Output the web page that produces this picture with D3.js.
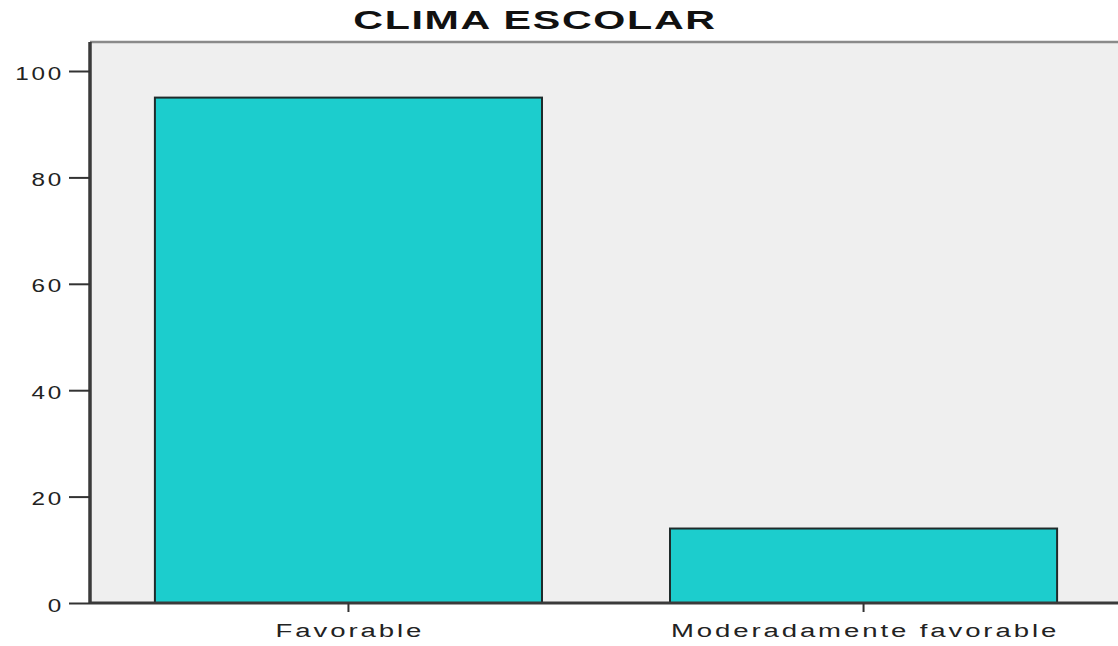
<!DOCTYPE html>
<html><head><meta charset="utf-8">
<script src="https://cdn.jsdelivr.net/npm/d3@7/dist/d3.min.js"></script>
<style>body{margin:0;background:#fff;} svg{display:block;}</style>
</head><body>
<svg id="c" width="1118" height="646"></svg>
<script>
const title = "CLIMA ESCOLAR";
const categories = ["Favorable", "Moderadamente favorable"];
const values = [95, 14];
const yTicks = [0, 20, 40, 60, 80, 100];

(function () {
const svg = d3.select("#c");
const FONT = "Liberation Sans, Arial, sans-serif";
const pLeft = 90, pRight = 1122, pTop = 42, pBottom = 603;
const x = d3.scaleBand().domain(categories).range([pLeft, pRight]).paddingInner(0.2485).paddingOuter(0.126);
const y = d3.scaleLinear().domain([0, 100]).range([pBottom, 71]);

svg.append("rect").attr("x", pLeft).attr("y", pTop).attr("width", pRight - pLeft).attr("height", pBottom - pTop).attr("fill", "#efefef");
svg.append("line").attr("x1", pLeft).attr("x2", pRight).attr("y1", pTop).attr("y2", pTop).attr("stroke", "#8a8a8a").attr("stroke-width", 2.5);

svg.selectAll("rect.bar").data(values).join("rect").attr("class", "bar")
  .attr("x", (d, i) => x(categories[i]))
  .attr("y", d => y(d))
  .attr("width", x.bandwidth())
  .attr("height", d => pBottom - y(d))
  .attr("fill", "#1ccdcd").attr("stroke", "#1f2b2b").attr("stroke-width", 2);

const yAxis = svg.append("g").attr("transform", `translate(${pLeft},0)`)
  .call(d3.axisLeft(y).tickValues(yTicks).tickSize(21).tickPadding(6).tickSizeOuter(0));
yAxis.select(".domain").attr("stroke", "#3a3a3a").attr("stroke-width", 3.5).attr("d", `M0,${pTop}V${pBottom}`);
yAxis.selectAll(".tick line").attr("stroke", "#333").attr("stroke-width", 2);
const sy = 1.35;
yAxis.selectAll(".tick text").attr("font-family", FONT).attr("font-size", 18).attr("fill", "#222")
  .attr("letter-spacing", "2px").attr("x", -26 / sy).attr("dy", "0.45em")
  .attr("transform", `scale(${sy},1)`);

const xAxis = svg.append("g").attr("transform", `translate(0,${pBottom})`)
  .call(d3.axisBottom(x).tickSize(9).tickPadding(9).tickSizeOuter(0));
xAxis.select(".domain").attr("stroke", "#3a3a3a").attr("stroke-width", 3).attr("d", `M${pLeft},0H${pRight}`);
xAxis.selectAll(".tick line").attr("stroke", "#333").attr("stroke-width", 2);
const sx = 1.45;
xAxis.selectAll(".tick text").attr("font-family", FONT).attr("font-size", 19).attr("fill", "#222")
  .attr("letter-spacing", "2px").attr("y", 34).attr("dy", null).attr("dx", 1)
  .attr("transform", `scale(${sx},1)`);

const st = 1.65;
svg.append("text").attr("transform", `translate(535,29) scale(${st},1)`).attr("text-anchor", "middle")
  .attr("font-family", FONT).attr("font-weight", "bold").attr("font-size", 25).attr("fill", "#111")
  .attr("letter-spacing", "1px")
  .text(title);
})();
</script>
</body></html>
